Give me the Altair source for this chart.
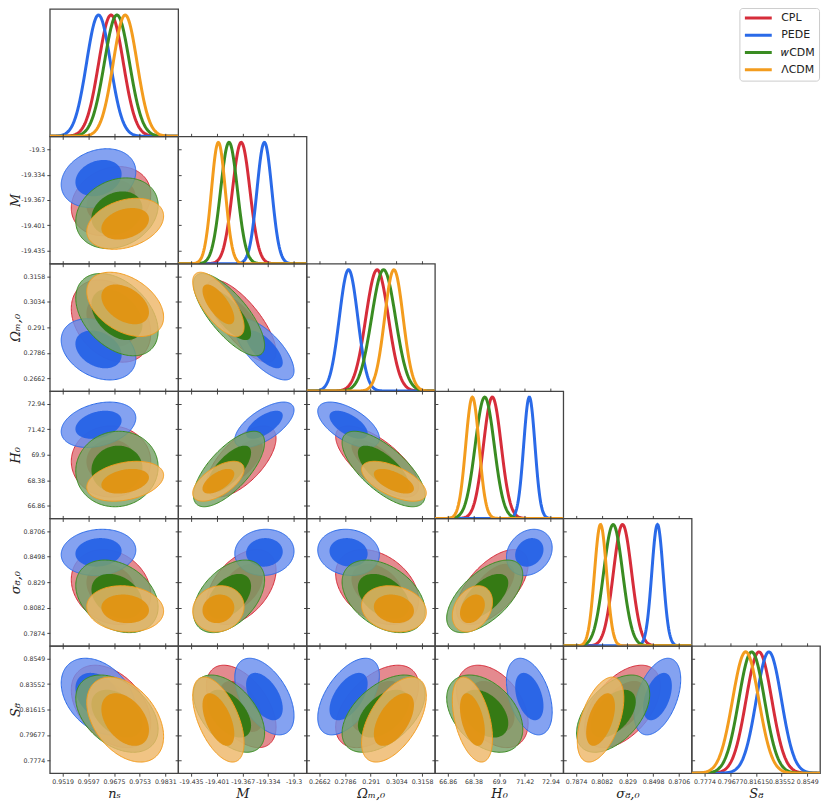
import numpy as np
import pandas as pd
import altair as alt

# ---------------- data ----------------
models = ["CPL", "PEDE", "wCDM", "ΛCDM"]
legend_names = ["CPL", "PEDE", "𝑤CDM", "ΛCDM"]
line_colors = ["#d62d3a", "#2a6ae8", "#3a8c22", "#f39c1e"]
outer_colors = ["#de7076", "#698eee", "#77a269", "#eeb769"]
inner_colors = ["#d42a36", "#2461e6", "#2e780e", "#e2930f"]

params = ["ns", "M", "Om", "H0", "s8", "S8"]
axis_titles = ["nₛ", "M", "Ωₘ,₀", "H₀", "σ₈,₀", "S₈"]

# tick labels
ticks_ns = [0.9519, 0.9597, 0.9675, 0.9753, 0.9831]
ticks_M = [-19.435, -19.401, -19.367, -19.334, -19.3]
ticks_Om = [0.2662, 0.2786, 0.291, 0.3034, 0.3158]
ticks_H0 = [66.86, 68.38, 69.9, 71.42, 72.94]
ticks_s8 = [0.7874, 0.8082, 0.829, 0.8498, 0.8706]
ticks_S8 = [0.7774, 0.79677, 0.81615, 0.83552, 0.8549]

# posterior means (CPL, PEDE, wCDM, LCDM)
mean_ns = [0.9666, 0.9628, 0.9684, 0.9709]
mean_M = [-19.369, -19.3385, -19.385, -19.399]
mean_Om = [0.2941, 0.2803, 0.2972, 0.3022]
mean_H0 = [69.50, 71.69, 69.05, 68.32]
mean_s8 = [0.8250, 0.8533, 0.8174, 0.8072]
mean_S8 = [0.8185, 0.8260, 0.8130, 0.8085]

# 1D marginal widths
sd1_ns = [0.00374, 0.00363, 0.00382, 0.00363]
sd1_M = [0.0115, 0.0098, 0.0111, 0.0091]
sd1_Om = [0.00546, 0.00446, 0.00577, 0.00446]
sd1_H0 = [0.524, 0.334, 0.562, 0.395]
sd1_s8 = [0.00738, 0.00458, 0.0077, 0.00489]
sd1_S8 = [0.0097, 0.0095, 0.0097, 0.0099]

# 2D contour widths
sd2_ns = [0.00493, 0.00463, 0.00511, 0.00477]
sd2_M = [0.0187, 0.0159, 0.0191, 0.0138]
sd2_Om = [0.00818, 0.00608, 0.00818, 0.00639]
sd2_H0 = [0.866, 0.553, 0.92, 0.486]
sd2_s8 = [0.0125, 0.0077, 0.0121, 0.0077]
sd2_S8 = [0.0128, 0.0119, 0.0120, 0.0132]

# correlations per pair (CPL, PEDE, wCDM, LCDM)
rho_ns_M = [0.2, 0.22, 0.22, 0.3]
rho_ns_Om = [-0.3, -0.3, -0.4, -0.4]
rho_ns_H0 = [0.0, 0.3, 0.05, 0.3]
rho_ns_s8 = [-0.2, 0.1, -0.3, -0.1]
rho_ns_S8 = [-0.4, -0.35, -0.4, -0.4]
rho_M_Om = [-0.75, -0.7, -0.75, -0.7]
rho_M_H0 = [0.65, 0.65, 0.7, 0.6]
rho_M_s8 = [0.45, 0.05, 0.45, 0.1]
rho_M_S8 = [-0.5, -0.5, -0.5, -0.55]
rho_Om_H0 = [-0.7, -0.6, -0.7, -0.6]
rho_Om_s8 = [-0.35, -0.1, -0.4, -0.15]
rho_Om_S8 = [0.5, 0.55, 0.5, 0.55]
rho_H0_s8 = [0.6, 0.2, 0.6, 0.3]
rho_H0_S8 = [-0.4, -0.4, -0.4, -0.45]
rho_s8_S8 = [0.5, 0.45, 0.5, 0.5]

titles = dict(zip(params, axis_titles))
ticks = dict(ns=ticks_ns, M=ticks_M, Om=ticks_Om, H0=ticks_H0, s8=ticks_s8, S8=ticks_S8)
mean = dict(ns=mean_ns, M=mean_M, Om=mean_Om, H0=mean_H0, s8=mean_s8, S8=mean_S8)
sd1 = dict(ns=sd1_ns, M=sd1_M, Om=sd1_Om, H0=sd1_H0, s8=sd1_s8, S8=sd1_S8)
sd2 = dict(ns=sd2_ns, M=sd2_M, Om=sd2_Om, H0=sd2_H0, s8=sd2_s8, S8=sd2_S8)
rho = {
    ("ns", "M"): rho_ns_M, ("ns", "Om"): rho_ns_Om, ("ns", "H0"): rho_ns_H0,
    ("ns", "s8"): rho_ns_s8, ("ns", "S8"): rho_ns_S8,
    ("M", "Om"): rho_M_Om, ("M", "H0"): rho_M_H0, ("M", "s8"): rho_M_s8, ("M", "S8"): rho_M_S8,
    ("Om", "H0"): rho_Om_H0, ("Om", "s8"): rho_Om_s8, ("Om", "S8"): rho_Om_S8,
    ("H0", "s8"): rho_H0_s8, ("H0", "S8"): rho_H0_S8,
    ("s8", "S8"): rho_s8_S8,
}

# ---------------- layout helpers ----------------
W, H = 129, 128
KOUT, KIN = 2.448, 1.515
tt = np.linspace(0.0, np.pi, 91)


def domain_of(p):
    tk = ticks[p]
    step = (tk[-1] - tk[0]) / 4.0
    return [tk[0] - step / 2.0, tk[-1] + step / 2.0]


def make_scale(p):
    return alt.Scale(domain=domain_of(p), nice=False, zero=False)


def ax_bottom(p, labels):
    if labels:
        return alt.Axis(orient="bottom", values=ticks[p], tickSize=3, grid=False, domain=False,
                        labels=True, labelExpr="'' + datum.value", labelOverlap=False,
                        labelFlush=False, title=titles[p], titleY=24)
    return alt.Axis(orient="bottom", values=ticks[p], tickSize=3, grid=False, domain=False,
                    labels=False, title=None)


def ax_left(p, labels):
    if labels:
        return alt.Axis(orient="left", values=ticks[p], tickSize=3, grid=False, domain=False,
                        labels=True, labelExpr="'' + datum.value", labelOverlap=False,
                        labelFlush=False, title=titles[p], titleX=-30, titleY=H / 2,
                        titleAngle=270)
    return alt.Axis(orient="left", values=ticks[p], tickSize=3, grid=False, domain=False,
                    labels=False, title=None)


def ax_top(p):
    return alt.Axis(orient="top", values=ticks[p], tickSize=3, grid=False, domain=False,
                    labels=False, title=None)


def ax_right(p):
    return alt.Axis(orient="right", values=ticks[p], tickSize=3, grid=False, domain=False,
                    labels=False, title=None)


def ellipse_df(mx, my, sx, sy, r, k):
    a = -k * np.cos(tt)
    w = np.sqrt(1.0 - r * r) * k * np.sin(tt)
    return pd.DataFrame({"x": mx + sx * a, "lo": my + sy * (r * a - w), "hi": my + sy * (r * a + w)})


def pair_cell(r, c):
    px, py = params[c], params[r]
    sx_, sy_ = make_scale(px), make_scale(py)
    layers = []
    n = 0
    for m in range(4):
        for lev, k in (("o", KOUT), ("i", KIN)):
            df = ellipse_df(mean[px][m], mean[py][m], sd2[px][m], sd2[py][m], rho[(px, py)][m], k)
            if n == 0:
                xa, ya = ax_bottom(px, r == 5), ax_left(py, c == 0)
            elif n == 1:
                xa, ya = ax_top(px), ax_right(py)
            else:
                xa, ya = None, None
            if lev == "o":
                mk = alt.Chart(df).mark_area(clip=True, orient="vertical", fill=outer_colors[m],
                                             fillOpacity=0.82, stroke=line_colors[m],
                                             strokeWidth=1)
            else:
                mk = alt.Chart(df).mark_area(clip=True, orient="vertical", fill=inner_colors[m],
                                             fillOpacity=0.92)
            layers.append(mk.encode(
                x=alt.X("x:Q", scale=sx_, axis=xa),
                y=alt.Y("lo:Q", scale=sy_, axis=ya, stack=None),
                y2="hi:Q",
            ))
            n += 1
    return alt.layer(*layers).resolve_axis(x="independent", y="independent").properties(width=W, height=H)


def diag_cell(r):
    p = params[r]
    sx_ = make_scale(p)
    d0, d1 = domain_of(p)
    xs = np.linspace(d0, d1, 241)
    layers = []
    for m in range(4):
        y = np.exp(-0.5 * ((xs - mean[p][m]) / sd1[p][m]) ** 2)
        df = pd.DataFrame({"x": xs, "y": y})
        if m == 0:
            xa = ax_bottom(p, r == 5)
        elif m == 1 and r > 0:
            xa = ax_top(p)
        else:
            xa = None
        layers.append(alt.Chart(df).mark_line(stroke=line_colors[m], strokeWidth=3, clip=True).encode(
            x=alt.X("x:Q", scale=sx_, axis=xa),
            y=alt.Y("y:Q", scale=alt.Scale(domain=[0, 1.05], nice=False, zero=False), axis=None),
        ))
    return alt.layer(*layers).resolve_axis(x="independent").properties(width=W, height=H)


unit = alt.Scale(domain=[0, 1], nice=False, zero=False)


def empty_cell():
    df = pd.DataFrame({"x": [0.5], "y": [0.5]})
    return alt.Chart(df).mark_point(opacity=0, size=1, clip=True).encode(
        x=alt.X("x:Q", axis=None, scale=unit), y=alt.Y("y:Q", axis=None, scale=unit)
    ).properties(width=W, height=H, view=alt.ViewBackground(stroke="transparent"))


def legend_cell():
    df = pd.DataFrame({"model": legend_names, "x": [0.5] * 4, "y": [0.5] * 4})
    return alt.Chart(df).mark_line(strokeWidth=3, clip=True).encode(
        x=alt.X("x:Q", axis=None, scale=unit),
        y=alt.Y("y:Q", axis=None, scale=unit),
        color=alt.Color("model:N", scale=alt.Scale(domain=legend_names, range=line_colors),
                        legend=alt.Legend(orient="none", legendX=48, legendY=-1, title=None,
                                          symbolType="stroke", symbolStrokeWidth=3,
                                          symbolSize=729, clipHeight=12, rowPadding=5.4,
                                          labelOffset=8, labelFont="DejaVu Sans",
                                          labelFontSize=11, labelColor="#222222", padding=4,
                                          strokeColor="#cccccc", fillColor="#ffffff",
                                          cornerRadius=3)),
    ).properties(width=W, height=H, view=alt.ViewBackground(stroke="transparent"))


cells = []
for r in range(6):
    for c in range(6):
        if c > r:
            cells.append(legend_cell() if (r == 0 and c == 5) else empty_cell())
        elif c == r:
            cells.append(diag_cell(r))
        else:
            cells.append(pair_cell(r, c))

chart = alt.concat(*cells, columns=6, spacing=0, bounds="flush").resolve_scale(
    color="independent"
).properties(
    padding={"left": 1, "top": -4, "right": 2, "bottom": 2}
).configure_view(
    stroke="#444444", strokeWidth=1.3
).configure_axis(
    labelFont="DejaVu Sans", labelFontSize=6.3, labelColor="#333333", labelPadding=2,
    tickColor="#333333", tickWidth=0.9,
    titleFont="DejaVu Serif", titleFontStyle="italic", titleFontWeight="normal",
    titleFontSize=13, titleColor="#222222", titleBaseline="alphabetic",
)

chart.save("out.html", embed_options={"renderer": "svg", "actions": False})
